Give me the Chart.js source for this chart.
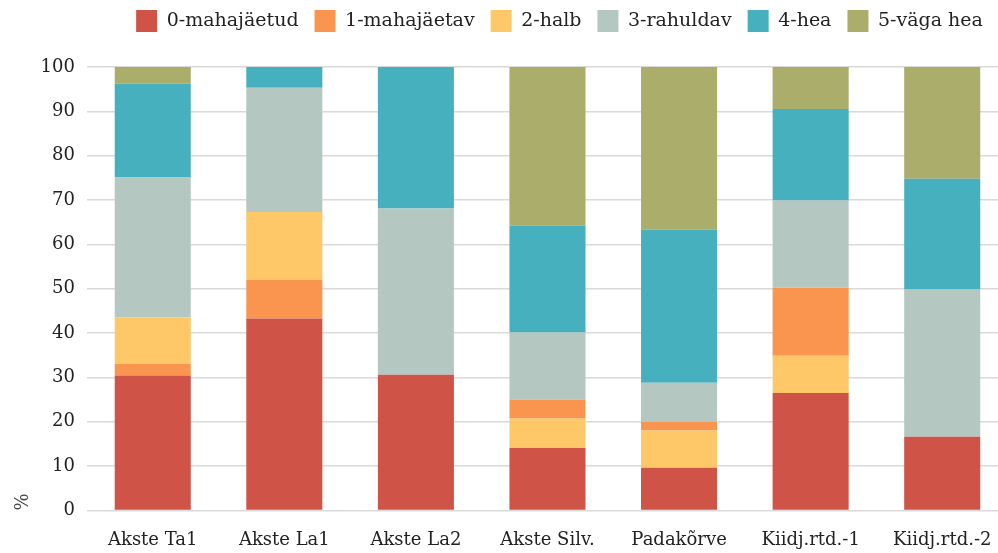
<!DOCTYPE html>
<html lang="et">

<head>
    <meta charset="UTF-8">
    <title>Hinnangud</title>
    <script src="https://cdn.jsdelivr.net/npm/chart.js"></script>
    <style>
        body { margin: 0; overflow: hidden; background: #fff; }
        .wrap { width: 1008px; height: 553px; }
    </style>
</head>

<body>
    <div class="wrap">
        <canvas id="hinnangud"></canvas>
    </div>

    <script>
        const kohad = ['Akste Ta1', 'Akste La1', 'Akste La2', 'Akste Silv.', 'Padakõrve', 'Kiidj.rtd.-1', 'Kiidj.rtd.-2'];

        // protsendid hinnangu kaupa
        const h0 = [30.4, 43.3, 30.6, 14.1, 9.6, 26.5, 16.6];
        const h1 = [2.7, 8.7, 0, 4.3, 2.0, 15.3, 0];
        const h2 = [10.4, 15.3, 0, 6.6, 8.4, 8.4, 0];
        const h3 = [31.6, 28.0, 37.5, 15.1, 8.8, 19.7, 33.2];
        const h4 = [21.2, 4.7, 31.9, 24.1, 34.5, 20.6, 25.0];
        const h5 = [3.7, 0, 0, 35.8, 36.7, 9.5, 25.2];

        // kus 1-mahajäetav on virnas kollase kohal
        const h1Ulal = [false, false, false, true, true, true, false];

        const yTicks = [0, 10, 20, 30, 40, 50, 60, 70, 80, 90, 100];

        const silt = ['0-mahajäetud', '1-mahajäetav', '2-halb', '3-rahuldav', '4-hea', '5-väga hea'];
        const varv = ['#cf5346', '#fa9550', '#fec868', '#b5c7c1', '#46b0be', '#abad6b'];

        const fontPere = "'DejaVu Serif', serif";

        const h1All = h1.map((v, i) => h1Ulal[i] ? null : v);
        const h1Peal = h1.map((v, i) => h1Ulal[i] ? v : null);

        function ds(label, data, color, peidus) {
            return { label: label, data: data, backgroundColor: color, borderWidth: 0, peidus: !!peidus };
        }

        // legendi alla rohkem ruumi ja legend veidi paremale
        const legendiNihe = {
            id: 'legendiNihe',
            beforeInit(chart) {
                const fit = chart.legend.fit;
                chart.legend.fit = function () {
                    fit.bind(chart.legend)();
                    this.height += 25;
                };
            },
            afterLayout(chart) {
                chart.legend.left += 56;
                chart.legend.right += 56;
            }
        };

        new Chart(document.getElementById('hinnangud'), {
            type: 'bar',
            data: {
                labels: kohad,
                datasets: [
                    ds(silt[0], h0, varv[0]),
                    ds(silt[1], h1All, varv[1]),
                    ds(silt[2], h2, varv[2]),
                    ds(silt[1], h1Peal, varv[1], true),
                    ds(silt[3], h3, varv[3]),
                    ds(silt[4], h4, varv[4]),
                    ds(silt[5], h5, varv[5])
                ]
            },
            plugins: [legendiNihe],
            options: {
                responsive: true,
                maintainAspectRatio: false,
                animation: false,
                datasets: { bar: { categoryPercentage: 1, barPercentage: 0.578 } },
                layout: { padding: { left: -1, right: 0, top: -6, bottom: -9 } },
                plugins: {
                    tooltip: { enabled: false },
                    legend: {
                        position: 'top',
                        labels: {
                            font: { family: fontPere, size: 19 },
                            color: '#222',
                            boxWidth: 21,
                            boxHeight: 22,
                            padding: 16,
                            filter: (item, data) => !data.datasets[item.datasetIndex].peidus
                        }
                    }
                },
                scales: {
                    x: {
                        stacked: true,
                        grid: { display: false },
                        border: { display: false },
                        ticks: { font: { family: fontPere, size: 18 }, color: '#222', padding: 11, maxRotation: 0 }
                    },
                    y: {
                        stacked: true,
                        min: 0,
                        max: 100,
                        afterBuildTicks: axis => { axis.ticks = yTicks.map(v => ({ value: v })); },
                        grid: { color: '#d9d9d9', lineWidth: 1.5, drawTicks: false },
                        border: { display: false },
                        ticks: { font: { family: fontPere, size: 18 }, color: '#222', padding: 12 },
                        title: {
                            display: true,
                            text: '%',
                            align: 'start',
                            font: { family: fontPere, size: 18 },
                            color: '#444',
                            padding: { top: 14, bottom: -6 }
                        }
                    }
                }
            }
        });
    </script>
</body>

</html>
